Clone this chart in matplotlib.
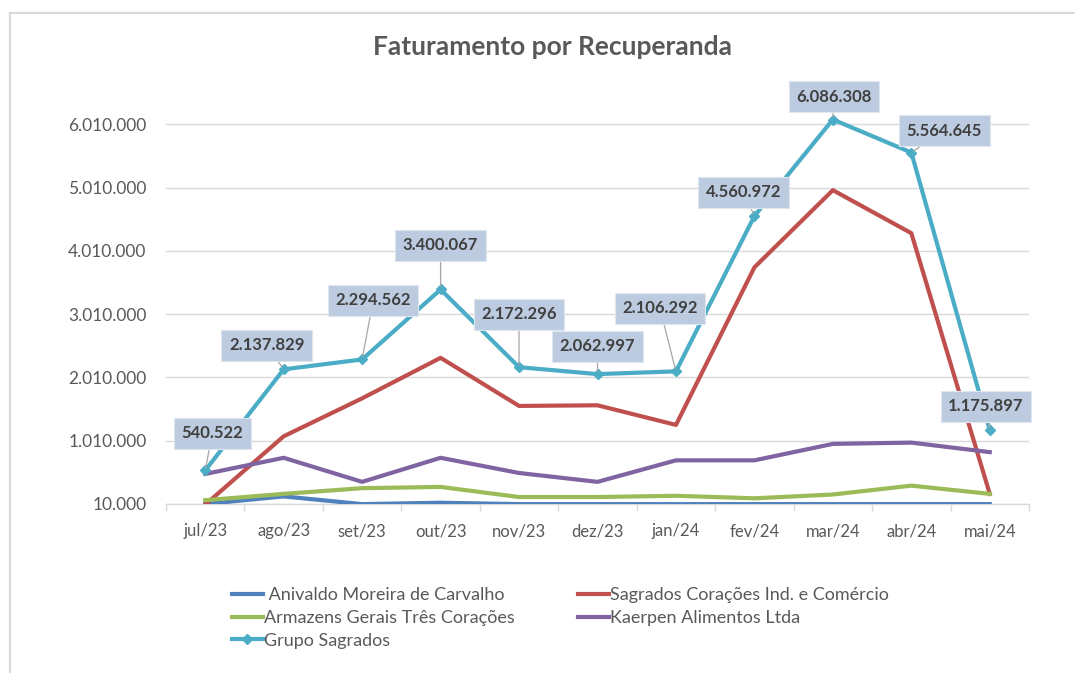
import matplotlib.pyplot as plt
from matplotlib.lines import Line2D

# data
meses = ["jul/23", "ago/23", "set/23", "out/23", "nov/23", "dez/23",
         "jan/24", "fev/24", "mar/24", "abr/24", "mai/24"]

anivaldo = [10000, 130000, 8000, 30000, 8000, 8000, 8000, 8000, 8000, 8000, 8000]
sagrados = [0, 1080000, 1680000, 2320000, 1560000, 1570000, 1260000, 3750000, 4970000, 4290000, 170000]
armazens = [70000, 170000, 260000, 280000, 120000, 120000, 140000, 100000, 160000, 300000, 170000]
kaerpen = [485000, 740000, 360000, 740000, 500000, 360000, 700000, 700000, 960000, 980000, 830000]
grupo = [540522, 2137829, 2294562, 3400067, 2172296, 2062997, 2106292, 4560972, 6086308, 5564645, 1175897]

yticks = [10000, 1010000, 2010000, 3010000, 4010000, 5010000, 6010000]

# label offsets in pixels (dx, dy) from each Grupo point
lbl_off = [(7, 37), (-17, 24), (11, 59), (0, 44), (0, 53), (0, 28),
           (-16, 63), (-11, 24), (1, 23), (33, 22), (-4, 24)]

c_aniv = "#4f81bd"
c_sagr = "#c0504d"
c_arm = "#9bbb59"
c_kaer = "#8064a2"
c_grupo = "#4bacc6"
txt = "#595959"

plt.rcParams['font.family'] = ['Lato', 'DejaVu Sans']

fig = plt.figure(figsize=(10.75, 6.73), dpi=100)
W, H = 1075, 673
# axes from pixel box: x 166..1029, y 106..504
ax = fig.add_axes([166 / W, 1 - 504 / H, (1029 - 166) / W, (504 - 106) / H])

x = list(range(len(meses)))
lw = 3.0
ax.plot(x, anivaldo, color=c_aniv, lw=lw, solid_joinstyle='round', zorder=3)
ax.plot(x, sagrados, color=c_sagr, lw=lw, solid_joinstyle='round', zorder=3)
ax.plot(x, armazens, color=c_arm, lw=lw, solid_joinstyle='round', zorder=3)
ax.plot(x, kaerpen, color=c_kaer, lw=lw, solid_joinstyle='round', zorder=3)
ax.plot(x, grupo, color=c_grupo, lw=lw, marker='D', ms=5, solid_joinstyle='round', zorder=4)

ax.set_xlim(-0.5, len(meses) - 0.5)
ax.set_ylim(10000, 6300000)
ax.set_yticks(yticks)
ax.set_yticklabels([f"{v:,}".replace(",", ".") for v in yticks])
ax.set_xticks(x)
ax.set_xticklabels(meses)
ax.set_xticks([i - 0.5 for i in range(len(meses) + 1)], minor=True)
ax.tick_params(axis='x', which='major', length=0, pad=14, labelsize=12, labelcolor=txt)
ax.tick_params(axis='x', which='minor', length=5, color="#d9d9d9", width=1)
ax.tick_params(axis='y', length=0, pad=14, labelsize=12.5, labelcolor=txt)
ax.grid(axis='y', color="#d9d9d9", lw=1)
ax.set_axisbelow(True)
for s in ['left', 'right', 'top']:
    ax.spines[s].set_visible(False)
ax.spines['bottom'].set_color("#d9d9d9")
ax.spines['bottom'].set_linewidth(1)
ax.spines['bottom'].set_zorder(2)

for i, v in enumerate(grupo):
    ax.annotate(f"{v:,}".replace(",", "."), xy=(i, v), xytext=lbl_off[i],
                textcoords='offset pixels', ha='center', va='center',
                fontsize=12, fontweight='bold', color="#404040", zorder=6,
                bbox=dict(boxstyle='square,pad=0.45', fc="#bccbe0", ec="#dfe6f0", lw=0.8),
                arrowprops=dict(arrowstyle='-', color="#a6a6a6", lw=0.9,
                                shrinkA=0, shrinkB=2))

fig.text(553 / W, 1 - 47 / H, "Faturamento por Recuperanda", ha='center', va='center',
         fontsize=19, fontweight='bold', color=txt)

# legend: two separate columns so each can be placed where the reference has it
col1_h = [Line2D([], [], color=c_aniv, lw=lw),
          Line2D([], [], color=c_arm, lw=lw),
          Line2D([], [], color=c_grupo, lw=lw, marker='D', ms=5)]
col1_l = [" Anivaldo Moreira de Carvalho", "Armazens Gerais Três Corações", "Grupo Sagrados"]
col2_h = [Line2D([], [], color=c_sagr, lw=lw),
          Line2D([], [], color=c_kaer, lw=lw)]
col2_l = ["Sagrados Corações Ind. e Comércio", "Kaerpen Alimentos Ltda"]

leg_kw = dict(loc='upper left', frameon=False, fontsize=13, handlelength=1.7,
              handletextpad=0.1, labelspacing=0.38, borderpad=0, borderaxespad=0)
leg1 = fig.legend(col1_h, col1_l, bbox_to_anchor=(232 / W, 1 - 587 / H), **leg_kw)
leg2 = fig.legend(col2_h, col2_l, bbox_to_anchor=(578 / W, 1 - 587 / H), **leg_kw)
for lg in (leg1, leg2):
    for t in lg.get_texts():
        t.set_color(txt)

# chart border (top and left visible)
fig.add_artist(Line2D([10 / W, 1], [1 - 13 / H, 1 - 13 / H], color="#d9d9d9", lw=1.5))
fig.add_artist(Line2D([10 / W, 10 / W], [0, 1 - 13 / H], color="#d9d9d9", lw=1.5))

fig.savefig("out.png", dpi=100, facecolor='white')
